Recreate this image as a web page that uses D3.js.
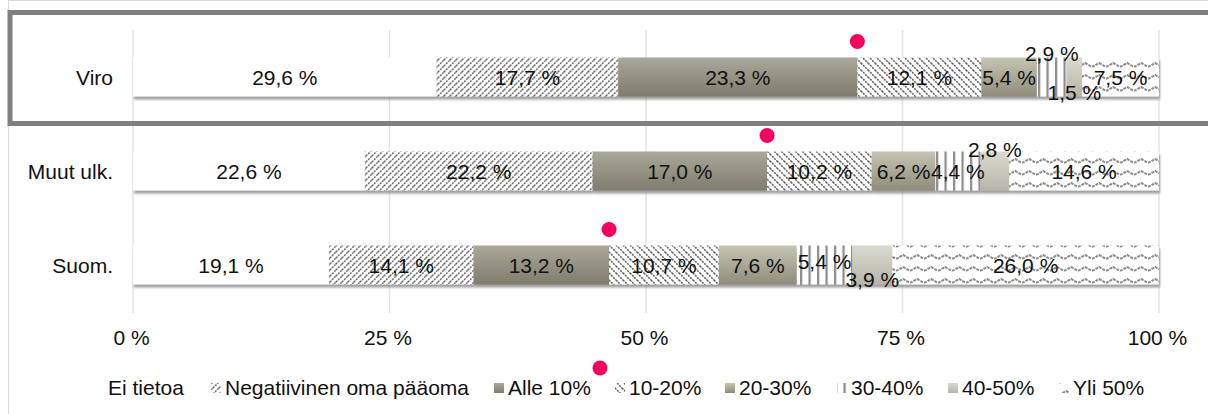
<!DOCTYPE html>
<html>
<head>
<meta charset="utf-8">
<script src="https://cdn.jsdelivr.net/npm/d3@7/dist/d3.min.js"></script>
<style>
  body { margin: 0; background: #fff; }
  text { font-family: "Liberation Sans", Arial, sans-serif; fill: #111; }
</style>
</head>
<body>
<script>
// categories (rows, top to bottom)
var categories = ["Viro", "Muut ulk.", "Suom."];

// series, in stacking order
var seriesNames = ["Ei tietoa", "Negatiivinen oma pääoma", "Alle 10%", "10-20%", "20-30%", "30-40%", "40-50%", "Yli 50%"];
var eiTietoa     = [29.6, 22.6, 19.1];
var negatiivinen = [17.7, 22.2, 14.1];
var alle10       = [23.3, 17.0, 13.2];
var p10_20       = [12.1, 10.2, 10.7];
var p20_30       = [5.4, 6.2, 7.6];
var p30_40       = [2.9, 4.4, 5.4];
var p40_50       = [1.5, 2.8, 3.9];
var yli50        = [7.5, 14.6, 26.0];

var xTicks = [0, 25, 50, 75, 100];

var seriesValues = [eiTietoa, negatiivinen, alle10, p10_20, p20_30, p30_40, p40_50, yli50];

// build rows for d3.stack
var rows = categories.map(function(c, i) {
  var r = { cat: c };
  seriesNames.forEach(function(s, j) { r[s] = seriesValues[j][i]; });
  return r;
});

var width = 1208, height = 414;
var fontSize = 21;

var x = d3.scaleLinear().domain([0, 100]).range([133, 1159]);
var y = d3.scalePoint().domain(categories).range([30, 312]).padding(0.5);
var barH = 39;

var svg = d3.select("body").append("svg")
  .attr("width", width)
  .attr("height", height);

var defs = svg.append("defs");

// shadow under the bars
var f = defs.append("filter").attr("id", "shadow")
  .attr("x", "-5%").attr("y", "-20%").attr("width", "110%").attr("height", "150%");
f.append("feDropShadow").attr("dx", 1).attr("dy", 3).attr("stdDeviation", 1.3)
  .attr("flood-color", "#777").attr("flood-opacity", 0.7);

function gradient(id, top, bottom) {
  var g = defs.append("linearGradient").attr("id", id)
    .attr("x1", 0).attr("y1", 0).attr("x2", 0).attr("y2", 1);
  g.append("stop").attr("offset", "0%").attr("stop-color", top);
  g.append("stop").attr("offset", "100%").attr("stop-color", bottom);
}
gradient("gAlle", "#aaa898", "#7e7c6c");
gradient("g2030", "#c6c4b2", "#8e8c7b");
gradient("g4050", "#dadad0", "#b6b5a8");

function pattern(id, w, h, draw) {
  var p = defs.append("pattern").attr("id", id)
    .attr("patternUnits", "userSpaceOnUse")
    .attr("width", w).attr("height", h);
  p.append("rect").attr("width", w).attr("height", h).attr("fill", "#fff");
  draw(p);
}
// negatiivinen: "/" hatch
pattern("pNeg", 6, 6, function(p) {
  p.append("path").attr("d", "M-1,1 L1,-1 M0,6 L6,0 M5,7 L7,5")
    .attr("stroke", "#707070").attr("stroke-width", 1.5).attr("stroke-dasharray", "2,1");
});
// 10-20%: "\" hatch
pattern("p1020", 7, 7, function(p) {
  p.append("path").attr("d", "M-1,6 L1,8 M0,0 L7,7 M6,-1 L8,1")
    .attr("stroke", "#5e5e5e").attr("stroke-width", 1.5).attr("stroke-dasharray", "2,1");
});
// 30-40%: vertical lines
pattern("p3040", 8.5, 10, function(p) {
  p.append("rect").attr("x", 1).attr("width", 2.2).attr("height", 10).attr("fill", "#8a8a8a");
});
// yli 50%: zigzag
pattern("pYli", 14, 12, function(p) {
  p.append("path").attr("d", "M0,7 L7,3 L14,7")
    .attr("fill", "none").attr("stroke", "#8c8c8c").attr("stroke-width", 2).attr("stroke-dasharray", "3,1");
});

var fills = ["#ffffff", "url(#pNeg)", "url(#gAlle)", "url(#p1020)", "url(#g2030)", "url(#p3040)", "url(#g4050)", "url(#pYli)"];
var color = d3.scaleOrdinal().domain(seriesNames).range(fills);

// chart area border
svg.append("rect")
  .attr("x", 8.5).attr("y", 0.5).attr("width", 1220).attr("height", 440)
  .attr("fill", "#fff").attr("stroke", "#dcdcd6");

// gridlines
svg.selectAll(".grid")
  .data(xTicks)
  .enter().append("line")
  .attr("class", "grid")
  .attr("x1", function(d) { return x(d); })
  .attr("x2", function(d) { return x(d); })
  .attr("y1", 30).attr("y2", 313)
  .attr("stroke", "#e4e4dc").attr("stroke-width", 1.5);

// x axis labels
var xAxis = d3.axisBottom(x).tickValues(xTicks).tickSize(0).tickPadding(0)
  .tickFormat(function(d) { return d + " %"; });
var gx = svg.append("g").attr("transform", "translate(-2,330)").call(xAxis);
gx.select(".domain").remove();
gx.selectAll("text").attr("font-size", fontSize).attr("dy", "0.71em")
  .style("font-family", "'Liberation Sans', Arial, sans-serif").attr("fill", "#111");

// y labels
svg.selectAll(".ylab")
  .data(categories)
  .enter().append("text")
  .attr("class", "ylab")
  .attr("x", 113)
  .attr("y", function(d) { return y(d) + 0.5; })
  .attr("dy", "0.35em")
  .attr("text-anchor", "end")
  .attr("font-size", fontSize)
  .text(function(d) { return d; });

// stacked bars
var stack = d3.stack().keys(seriesNames);
var layers = stack(rows);

var barsG = svg.append("g").attr("filter", "url(#shadow)");
barsG.selectAll(".layer")
  .data(layers)
  .enter().append("g")
  .attr("class", "layer")
  .attr("fill", function(d) { return color(d.key); })
  .selectAll("rect")
  .data(function(d) { return d; })
  .enter().append("rect")
  .attr("x", function(d) { return x(d[0]); })
  .attr("y", function(d) { return y(d.data.cat) - barH / 2; })
  .attr("width", function(d) { return x(d[1]) - x(d[0]); })
  .attr("height", barH);

// value labels, some of the narrow ones are moved off the bar
var nudge = {
  "Viro|30-40%": -24, "Viro|40-50%": 15,
  "Muut ulk.|40-50%": -22,
  "Suom.|30-40%": -4, "Suom.|40-50%": 14
};
var fmt = function(v) { return d3.format(".1f")(v).replace(".", ",") + " %"; };

var labels = [];
layers.forEach(function(l) {
  l.forEach(function(d) {
    labels.push({ key: l.key, cat: d.data.cat, v: d[1] - d[0], mid: (d[0] + d[1]) / 2 });
  });
});
svg.selectAll(".vlab")
  .data(labels)
  .enter().append("text")
  .attr("class", "vlab")
  .attr("x", function(d) { return x(d.mid); })
  .attr("y", function(d) { return y(d.cat) + 0.5 + (nudge[d.cat + "|" + d.key] || 0); })
  .attr("dy", "0.35em")
  .attr("text-anchor", "middle")
  .attr("font-size", fontSize)
  .text(function(d) { return fmt(d.v); });

// pink markers at the end of "Alle 10%"
svg.selectAll(".dot")
  .data(layers[2])
  .enter().append("circle")
  .attr("class", "dot")
  .attr("cx", function(d) { return x(d[1]); })
  .attr("cy", function(d) { return y(d.data.cat) - barH / 2 - 16; })
  .attr("r", 7.5)
  .attr("fill", "#f5005f");

// highlight box round Viro
svg.append("rect")
  .attr("x", 10).attr("y", 12.5).attr("width", 1220).attr("height", 111)
  .attr("fill", "none").attr("stroke", "#7f7f7f").attr("stroke-width", 5);

// legend (x = where each text starts)
var legX = [108, 225, 508, 629, 739, 851, 962, 1073];
var legend = svg.selectAll(".legend")
  .data(seriesNames)
  .enter().append("g")
  .attr("class", "legend")
  .attr("transform", function(d, i) { return "translate(" + legX[i] + ",388)"; });
legend.filter(function(d, i) { return i > 0; }).append("rect")
  .attr("x", -14).attr("y", -5).attr("width", 10).attr("height", 10)
  .attr("fill", function(d) { return color(d); });
legend.append("text")
  .attr("x", 0)
  .attr("y", 0)
  .attr("dy", "0.35em")
  .attr("font-size", fontSize)
  .text(function(d) { return d; });

svg.append("circle").attr("cx", 600).attr("cy", 368).attr("r", 7.5).attr("fill", "#f5005f");
</script>
</body>
</html>
